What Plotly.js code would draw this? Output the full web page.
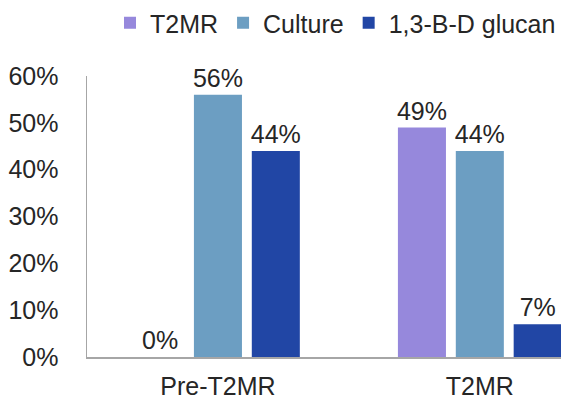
<!DOCTYPE html>
<html>
<head>
<meta charset="utf-8">
<script src="https://cdn.plot.ly/plotly-3.0.1.min.js"></script>
<style>html,body{margin:0;padding:0;background:#fff;}#chart{width:561px;height:400px;}</style>
</head>
<body>
<div id="chart"></div>
<script>
const categories = ["Pre-T2MR", "T2MR"];
const seriesNames = ["T2MR", "Culture", "1,3-B-D glucan"];
const t2mrValues = [0.00, 0.49];
const cultureValues = [0.56, 0.44];
const glucanValues = [0.44, 0.07];
const yTickValues = [0, 0.1, 0.2, 0.3, 0.4, 0.5, 0.6];
const yTickLabels = ["0%", "10%", "20%", "30%", "40%", "50%", "60%"];

const colors = ["#9688DC", "#6C9EC2", "#2146A5"];
const allValues = [t2mrValues, cultureValues, glucanValues];
const fontFamily = "Liberation Sans, Arial, sans-serif";

const traces = allValues.map((vals, i) => ({
  type: "bar",
  name: seriesNames[i],
  x: categories,
  y: vals,
  marker: {color: colors[i]},
  text: vals.map(v => Math.round(v * 100) + "%"),
  textposition: "outside",
  constraintext: "none",
  cliponaxis: false,
  textfont: {family: fontFamily, size: 25, color: "#262626"},
  hoverinfo: "skip"
}));

const layout = {
  width: 561,
  height: 400,
  margin: {l: 87, r: 0, t: 76, b: 43, pad: 0},
  paper_bgcolor: "#ffffff",
  plot_bgcolor: "#ffffff",
  barmode: "group",
  bargap: 0.337,
  bargroupgap: 0.17,
  font: {family: fontFamily, size: 25, color: "#262626"},
  showlegend: true,
  legend: {
    orientation: "h",
    xref: "container",
    yref: "container",
    x: 1,
    xanchor: "right",
    y: 1,
    yanchor: "top",
    font: {family: fontFamily, size: 25, color: "#262626"},
    itemwidth: 30,
    traceorder: "normal"
  },
  xaxis: {
    type: "category",
    range: [-0.5, 1.31],
    showline: true,
    linecolor: "#A6A6A6",
    linewidth: 1.5,
    showgrid: false,
    zeroline: false,
    ticks: "",
    ticklabelstandoff: 6,
    tickfont: {family: fontFamily, size: 25, color: "#262626"},
    fixedrange: true
  },
  yaxis: {
    range: [0, 0.6],
    tickvals: yTickValues,
    ticktext: yTickLabels,
    showline: true,
    linecolor: "#A6A6A6",
    linewidth: 1.5,
    showgrid: false,
    zeroline: false,
    ticks: "",
    ticklabelstandoff: 22,
    tickfont: {family: fontFamily, size: 25, color: "#262626"},
    fixedrange: true
  }
};

Plotly.newPlot("chart", traces, layout, {staticPlot: true, displayModeBar: false});
</script>
</body>
</html>
